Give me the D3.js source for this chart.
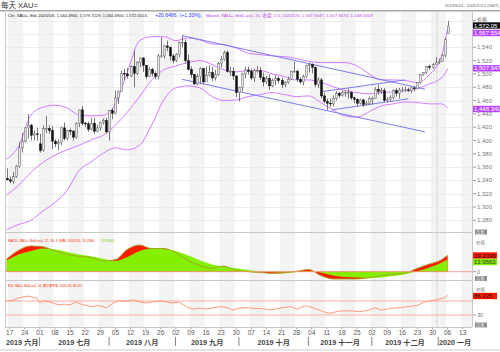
<!DOCTYPE html>
<html>
<head>
<meta charset="utf-8">
<script src="https://cdn.jsdelivr.net/npm/d3@7"></script>
<style>
  body { margin: 0; background: #fff; }
  svg { display: block; font-family: "Liberation Sans", "Noto Sans CJK SC", sans-serif; }
</style>
</head>
<body>
<div id="chart"></div>
<script>
// daily XAU= bars, 2019/6/14 .. 2020/1/6 (index 0 .. 146, weekdays)
const openP = [1343,1341,1339,1346,1361,1389,1399,1419,1423,1408,1410,
  1395,1385,1418,1418,1415,1399,1395,1397,1419,1403,
  1415,1414,1405,1426,1446,1426,1425,1417,1426,1414,
  1419,1427,1430,1413,1445,1441,1464,1474,1501,1500,
  1497,1511,1501,1517,1524,1513,1496,1507,1501,1496,
  1527,1527,1542,1540,1527,1520,1529,1547,1547,1520,
  1507,1499,1485,1496,1508,1488,1498,1502,1494,1499,
  1516,1522,1532,1504,1504,1497,1472,1480,1500,1506,
  1504,1494,1505,1505,1495,1488,1493,1482,1490,1493,
  1490,1484,1487,1492,1504,1504,1492,1488,1496,1513,
  1514,1510,1484,1491,1467,1459,1456,1455,1463,1471,
  1468,1472,1472,1472,1464,1462,1456,1461,1454,1456,
  1463,1463,1477,1474,1475,1460,1462,1465,1475,1471,
  1476,1476,1476,1475,1479,1478,1487,1499,1502,1511,
  1510,1514,1517,1519,1528,1560.49];
const highP = [1358,1346,1353,1363,1397,1411,1420,1439,1425,1415,1419,
  1410,1423,1437,1423,1422,1402,1402,1421,1427,1416,
  1418,1416,1427,1446,1452,1428,1428,1434,1434,1424,
  1428,1433,1434,1446,1449,1475,1475,1505,1508,1509,
  1513,1535,1519,1524,1525,1513,1510,1509,1504,1530,
  1555,1543,1550,1541,1530,1531,1549,1557,1552,1529,
  1511,1500,1500,1510,1508,1511,1513,1511,1506,1518,
  1527,1535,1535,1511,1510,1497,1481,1502,1511,1511,
  1508,1508,1512,1510,1502,1497,1499,1493,1498,1496,
  1494,1489,1496,1505,1518,1506,1495,1499,1514,1517,
  1516,1511,1495,1494,1472,1463,1463,1468,1474,1473,
  1475,1474,1478,1474,1466,1463,1463,1463,1459,1466,
  1466,1480,1484,1479,1479,1465,1468,1477,1479,1479,
  1480,1481,1479,1480,1481,1488,1500,1503,1512,1514,
  1516,1525,1523,1530,1554,1579.72];
const lowP = [1340,1336,1335,1344,1359,1382,1397,1403,1400,1400,1400,
  1382,1383,1411,1410,1387,1390,1386,1393,1400,1400,
  1408,1400,1403,1420,1423,1420,1413,1415,1410,1412,
  1415,1424,1411,1400,1432,1440,1455,1474,1490,1493,
  1495,1480,1498,1510,1503,1492,1495,1496,1492,1492,
  1524,1523,1534,1520,1516,1518,1525,1540,1516,1505,
  1494,1484,1483,1485,1485,1488,1496,1489,1490,1497,
  1510,1520,1502,1497,1491,1465,1459,1474,1493,1499,
  1491,1488,1502,1491,1481,1485,1476,1480,1483,1486,
  1479,1480,1485,1491,1502,1488,1485,1483,1494,1502,
  1501,1480,1479,1463,1456,1446,1450,1451,1460,1464,
  1466,1466,1463,1461,1456,1451,1454,1450,1452,1453,
  1454,1463,1469,1470,1458,1457,1459,1462,1466,1463,
  1472,1473,1473,1472,1474,1477,1485,1497,1500,1506,
  1508,1514,1515,1518,1525,1560.49];
const closeP = [1341,1339,1346,1361,1389,1399,1419,1423,1408,1410,1409,
  1385,1418,1418,1415,1399,1395,1397,1419,1403,1415,
  1414,1405,1426,1446,1426,1425,1417,1426,1414,1419,
  1427,1430,1413,1445,1441,1464,1474,1501,1500,1497,
  1511,1501,1517,1524,1513,1496,1507,1501,1496,1527,
  1527,1542,1540,1527,1520,1529,1547,1547,1520,1507,
  1499,1485,1496,1508,1488,1498,1502,1494,1499,1516,
  1522,1532,1504,1504,1497,1472,1480,1500,1506,1504,
  1494,1505,1505,1495,1488,1493,1482,1490,1493,1490,
  1484,1487,1492,1504,1504,1492,1488,1496,1513,1514,
  1510,1484,1491,1467,1459,1456,1455,1463,1471,1468,
  1472,1472,1472,1464,1462,1456,1461,1454,1456,1463,
  1463,1477,1474,1475,1460,1462,1465,1475,1471,1476,
  1476,1476,1475,1479,1478,1487,1499,1502,1511,1510,
  1514,1517,1519,1528,1551.4,1572.05];

// Bollinger (20, 2.0) at these bar indices
const bandIdx = [0,4,8,12,16,20,24,28,32,36,40,44,48,52,56,60,64,68,72,76,80,84,88,92,96,100,104,108,112,116,120,124,128,132,136,140,144,145,146];
const bandUpper = [1372,1392,1438,1450,1453,1449,1438,1437,1438,1455,1503,1550,1556,1556,1550,1554,1551,1545,1544,1539,1531,1529,1527,1526,1523,1519,1517,1517,1517,1512,1500,1491,1491,1490,1487,1499,1527,1546,1567.55];
const bandMid = [1318,1333,1352,1367,1378,1386,1393,1401,1408,1423,1443,1466,1491,1506,1512,1517,1520,1514,1506,1503,1505,1505,1500,1496,1491,1491,1487,1481,1475,1472,1470,1472,1473,1475,1478,1485,1494,1499,1507.95];
const bandLower = [1266,1274,1280,1294,1307,1325,1355,1368,1381,1389,1386,1393,1423,1461,1479,1482,1479,1466,1460,1461,1466,1469,1472,1469,1466,1467,1457,1446,1437,1435,1443,1452,1455,1458,1457,1455,1455,1453,1448.34];

// MACD (12, 26, 9), same bar indices
const macdLine = [15,25,30,29,24,20,18,16.5,12.5,14,26,31,27,27,22,13,7,4,6.5,1,0,-1,-2,-1.5,0.5,2.5,-4.5,-8.5,-8.5,-8.5,-7,-4.5,-3,-1.5,4,9,14,16.5,19.24];
const macdSignal = [13,20,24,27,26,23,20,18,15,12.5,17,24,27,26.5,24,19,13,8.5,6,4,2,0.5,-0.5,-1,-0.5,0.8,-1,-4.5,-6.2,-6.8,-7.5,-6.8,-5,-3,0.8,5,10.5,12.3,13.96];

// RSI (14)
const rsiIdx = [0,2,4,7,9,10,11,12,14,17,19,21,23,25,28,30,32,33,35,37,40,42,44,46,48,51,53,55,57,60,62,64,66,68,71,73,75,77,80,82,84,87,90,94,96,99,102,105,107,110,114,117,120,122,124,127,130,133,136,138,140,142,145,146];
const rsiVal = [70,72,79,84,80,78,64,71,68,59,61,59,67,60,54,57,54,50,63,70,70,73,68,64,67,70,67,64,67,51,47,50,47,50,54,51,44,50,51,48,49,44,49,54,47,57,49,39,35,41,42,39,44,51,44,49,51,54,57,66,70,73,80,86.2];

// trend lines drawn on the chart: [barIndex, price] pairs
const trendLines = [
  [[58, 1557.6], [138.5, 1477]],
  [[58, 1492], [138.5, 1413]],
  [[104.7, 1473.6], [131.9, 1491]],
  [[107.6, 1446], [133, 1462.6]]
];

const priceTicks = d3.range(1280, 1581, 20);
const hiddenTicks = [1580, 1560];   // covered by the value tags
const weekLabels = ["17","24","01","08","15","22","29","05","12","19","26","02","09","16","23","30",
  "07","14","21","28","04","11","18","25","02","09","16","23","30","06","13"];
const monthLabels = ["2019 六月","2019 七月","2019 八月","2019 九月","2019 十月","2019 十一月","2019 十二月","2020 一月"];
const monthStart = [0, 11, 34, 56, 77, 100, 121, 143];

const W = 500, H = 352;
const left = 5, right = 472;
const mainTop = 12, mainBottom = 232;
const macdTop = 233, macdBottom = 280;
const rsiTop = 281, rsiBottom = 327;

const x = d3.scaleLinear().domain([0, 146]).range([6.7, 447.6]);
const y = d3.scaleLinear().domain([1262.6, 1593]).range([mainBottom, mainTop]);
const yM = d3.scaleLinear().domain([-9.65, 45]).range([macdBottom, macdTop]);
const yR = d3.scaleLinear().domain([0, 100]).range([325.5, 290.5]);

const svg = d3.select("#chart").append("svg")
  .attr("width", W).attr("height", H);

const defs = svg.append("defs");
function clip(id, y0, y1) {
  defs.append("clipPath").attr("id", id)
    .append("rect").attr("x", left).attr("y", y0).attr("width", right - left).attr("height", y1 - y0);
}
clip("clipMain", mainTop, mainBottom);
clip("clipMacd", macdTop, macdBottom);
clip("clipRsi", rsiTop, rsiBottom);
clip("clipAll", mainTop, rsiBottom);

// week stripes
const weeks = d3.range(-1, 31);
svg.append("g").attr("clip-path", "url(#clipAll)")
  .selectAll("rect").data(weeks.filter(n => n % 2 === 0)).join("rect")
  .attr("x", n => x(1 + 5 * n - 0.5))
  .attr("width", n => x(1 + 5 * n + 4.5) - x(1 + 5 * n - 0.5))
  .attr("y", mainTop).attr("height", rsiBottom - mainTop)
  .attr("fill", "#f3f3f3");

// year boundary
svg.append("line")
  .attr("x1", x(142.5)).attr("x2", x(142.5))
  .attr("y1", mainTop).attr("y2", rsiBottom)
  .attr("stroke", "#d8d8d8");

// price grid
svg.append("g").selectAll("line").data(priceTicks).join("line")
  .attr("x1", left).attr("x2", right)
  .attr("y1", d => Math.round(y(d)) + 0.5).attr("y2", d => Math.round(y(d)) + 0.5)
  .attr("stroke", "#ececec");

// header
svg.append("text").attr("x", 1).attr("y", 8)
  .attr("font-size", 7.5).attr("fill", "#333").text("每天 XAU=");
svg.append("text").attr("x", 499).attr("y", 7).attr("text-anchor", "end")
  .attr("font-size", 4.2).attr("fill", "#666").text("2019/6/14 - 2020/1/14 (GMT)");
svg.append("rect").attr("x", 0).attr("y", 10).attr("width", W).attr("height", 1.5).attr("fill", "#a8a8a8");

// small legend texts: font size picked so the text spans the given width
function fitText(x0, yy, len, color, txt) {
  const t = svg.append("text").attr("x", x0).attr("y", yy)
    .attr("font-size", 10).attr("fill", color).text(txt);
  const w = t.node().getComputedTextLength();
  t.attr("font-size", (10 * len / w).toFixed(2));
  return t;
}
fitText(8, 16.5, 140, "#222", "Cht, XAU=, Bid, 2020/1/6, 1,560.4900, 1,579.7229, 1,560.4900, 1,572.0513,");
fitText(155, 16.5, 47, "#3344ff", "+20.6486, (+1.33%),");
fitText(206, 16.5, 167, "#c040f0", "Bband, XAU=, Bid(Last), 20, 收盘, 2.0, 2020/1/6, 1,567.5547, 1,507.9470, 1,448.3409");

// panel frames
const frame = svg.append("g").attr("stroke", "#c8c8c8").attr("fill", "none");
frame.append("line").attr("x1", left + 0.5).attr("x2", left + 0.5).attr("y1", mainTop).attr("y2", rsiBottom);
frame.append("line").attr("x1", right + 0.5).attr("x2", right + 0.5).attr("y1", mainTop).attr("y2", rsiBottom);
[mainBottom, macdBottom, rsiBottom].forEach(v => {
  frame.append("line").attr("x1", left).attr("x2", right).attr("y1", v + 0.5).attr("y2", v + 0.5);
});

// Bollinger bands
const bandLine = arr => d3.line()
  .x((d, i) => x(bandIdx[i])).y(d => y(d))
  .curve(d3.curveMonotoneX)(arr);
const main = svg.append("g").attr("clip-path", "url(#clipMain)");
[bandUpper, bandMid, bandLower].forEach(arr => {
  main.append("path").attr("d", bandLine(arr))
    .attr("fill", "none").attr("stroke", "#d27cff").attr("stroke-width", 1);
});

// trend lines
main.selectAll(".trend").data(trendLines).join("line").attr("class", "trend")
  .attr("x1", d => x(d[0][0])).attr("y1", d => y(d[0][1]))
  .attr("x2", d => x(d[1][0])).attr("y2", d => y(d[1][1]))
  .attr("stroke", "#7c7cf2").attr("stroke-width", 1);

// candles
const bars = d3.range(closeP.length);
main.append("g").selectAll("line").data(bars).join("line")
  .attr("x1", i => Math.round(x(i)) + 0.5).attr("x2", i => Math.round(x(i)) + 0.5)
  .attr("y1", i => y(highP[i])).attr("y2", i => y(lowP[i]))
  .attr("stroke", "#555").attr("stroke-width", 0.8);
main.append("g").selectAll("rect").data(bars).join("rect")
  .attr("x", i => Math.round(x(i)) - 0.5)
  .attr("width", 2)
  .attr("y", i => y(Math.max(openP[i], closeP[i])))
  .attr("height", i => Math.max(0.8, Math.abs(y(openP[i]) - y(closeP[i]))))
  .attr("fill", i => closeP[i] >= openP[i] ? "#e4e4e4" : "#111")
  .attr("stroke", i => closeP[i] >= openP[i] ? "#666" : "#111")
  .attr("stroke-width", 0.5);

// right price axis
const axisR = svg.append("g").attr("font-size", 6).attr("fill", "#777");
priceTicks.forEach(p => {
  const yy = y(p);
  axisR.append("line").attr("x1", right + 1).attr("x2", right + 4)
    .attr("y1", yy).attr("y2", yy).attr("stroke", "#999");
  if (!hiddenTicks.includes(p)) {
    axisR.append("text").attr("x", right + 5).attr("y", yy + 2).text(d3.format(",")(p));
  }
});
function tag(yy, txt, bg, fg, w) {
  svg.append("rect").attr("x", right + 1).attr("y", yy - 3.2).attr("width", w || 27).attr("height", 6.4).attr("fill", bg);
  svg.append("text").attr("x", right + 2).attr("y", yy + 2).attr("font-size", 6)
    .attr("fill", fg).text(txt);
}
svg.append("text").attr("x", right + 5).attr("y", 20.5).attr("font-size", 5).attr("fill", "#555").text("价格");
tag(25.5, "1,572.05", "#111", "#fff");
tag(33, "1,567.554", "#b844ff", "#fff");
tag(68.3, "1,507.947", "#b844ff", "#fff");
tag(109, "1,448.340", "#b844ff", "#fff");

// MACD panel
const macd = svg.append("g").attr("clip-path", "url(#clipMacd)");
const mx = (d, i) => x(bandIdx[i]);
macd.append("path")
  .attr("d", d3.area().x(mx).y0(yM(0)).y1(d => yM(d)).curve(d3.curveMonotoneX)(macdLine))
  .attr("fill", "#ff1a00");
macd.append("path")
  .attr("d", d3.area().x(mx).y0(yM(0)).y1(d => yM(d)).curve(d3.curveMonotoneX)(macdSignal))
  .attr("fill", "#84f000");
macd.append("path")
  .attr("d", d3.line().x(mx).y(d => yM(d)).curve(d3.curveMonotoneX)(macdLine))
  .attr("fill", "none").attr("stroke", "#a6a020").attr("stroke-width", 0.9);
macd.append("line").attr("x1", left).attr("x2", right)
  .attr("y1", yM(0)).attr("y2", yM(0)).attr("stroke", "#ff8c7a").attr("stroke-width", 0.8);

fitText(8, 241.5, 87, "#ff2a00", "MACD, XAU=, Bid(Last), 12, 26, 9, 指数, 2020/1/6, 19.2396,");
fitText(101, 241.5, 13, "#66cc00", "13.9563");

function grayTag(yy) {
  svg.append("rect").attr("x", right + 3).attr("y", yy - 2.5).attr("width", 12).attr("height", 5).attr("fill", "#8a8a8a");
  svg.append("text").attr("x", right + 4).attr("y", yy + 1.6).attr("font-size", 4.2).attr("fill", "#eee").text("百萬");
}
grayTag(232);
svg.append("text").attr("x", right + 4).attr("y", 244).attr("font-size", 4.5).attr("fill", "#777").text("价格");
tag(255.5, "19.2396", "#ff1a00", "#111", 24);
tag(262, "13.9563", "#84f000", "#333", 24);
svg.append("line").attr("x1", right + 1).attr("x2", right + 4).attr("y1", yM(0)).attr("y2", yM(0)).attr("stroke", "#999");
svg.append("text").attr("x", right + 5).attr("y", yM(0) + 2).attr("font-size", 5.5).attr("fill", "#777").text("0");
grayTag(278.5);

// RSI panel
const rsi = svg.append("g").attr("clip-path", "url(#clipRsi)");
[70, 30].forEach(v => {
  rsi.append("line").attr("x1", left).attr("x2", right)
    .attr("y1", yR(v)).attr("y2", yR(v)).attr("stroke", "#ffae9c").attr("stroke-width", 1.2);
});
rsi.append("path")
  .attr("d", d3.line().x((d, i) => x(rsiIdx[i])).y(d => yR(d))(rsiVal))
  .attr("fill", "none").attr("stroke", "#ff8c6e").attr("stroke-width", 0.9);

fitText(8, 287, 74, "#ff2a00", "RSI, XAU=, Bid(Last), 14, 威尔德平滑, 2020/1/6, 86.225");
svg.append("text").attr("x", right + 4).attr("y", 291).attr("font-size", 4.5).attr("fill", "#777").text("价格");
tag(296, "86.225", "#ff1a00", "#111", 24);
svg.append("line").attr("x1", right + 1).attr("x2", right + 4).attr("y1", yR(30)).attr("y2", yR(30)).attr("stroke", "#999");
svg.append("text").attr("x", right + 5).attr("y", yR(30) + 2).attr("font-size", 5.5).attr("fill", "#777").text("30");
grayTag(325);

// date axis
const mondays = weekLabels.map((d, n) => 1 + 5 * n);
const dates = svg.append("g");
dates.selectAll("line").data(mondays).join("line")
  .attr("x1", i => x(i)).attr("x2", i => x(i))
  .attr("y1", rsiBottom + 0.5).attr("y2", rsiBottom + 2.5).attr("stroke", "#aaa");
dates.selectAll("text").data(weekLabels).join("text")
  .attr("x", (d, n) => x(mondays[n])).attr("y", 334.5)
  .attr("text-anchor", "middle").attr("font-size", 6.5).attr("fill", "#555")
  .text(d => d);

const monthG = svg.append("g");
monthLabels.forEach((m, k) => {
  const x0 = k === 0 ? left : x(monthStart[k]) - 0.3;
  const x1 = k === monthLabels.length - 1 ? right : x(monthStart[k + 1]) - 0.3;
  if (k > 0) {
    monthG.append("line").attr("x1", x0).attr("x2", x0).attr("y1", 337).attr("y2", 346)
      .attr("stroke", "#666").attr("stroke-width", 0.8);
  }
  monthG.append("text").attr("x", (x0 + x1) / 2).attr("y", 345)
    .attr("text-anchor", "middle").attr("font-size", 7.2).attr("font-weight", "bold")
    .attr("fill", "#444").text(m);
});
svg.append("rect").attr("x", 0).attr("y", 349.5).attr("width", W).attr("height", 1).attr("fill", "#ccc");
</script>
</body>
</html>
